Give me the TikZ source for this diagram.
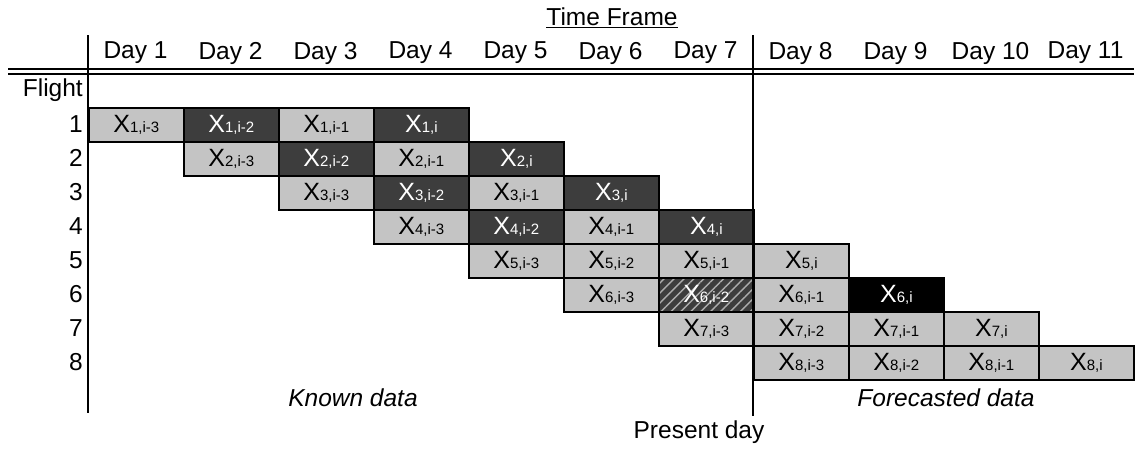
\documentclass[tikz,border=0pt]{standalone}
\usepackage{fontspec}
\setmainfont{Liberation Sans}
\usetikzlibrary{patterns.meta}
\definecolor{cellgray}{gray}{0.77}
\definecolor{celldark}{gray}{0.24}
\newcommand\xlab[1]{{\fontsize{25}{25}\selectfont X}{\fontsize{15}{15}\selectfont #1}}
\begin{document}
\begin{tikzpicture}[x=1pt,y=-1pt,
  txt/.style={font=\fontsize{24.5}{24.5}\selectfont, inner sep=0pt},
  cell/.style={draw=black, line width=1.8pt, minimum width=95pt, minimum height=34pt,
    inner sep=0pt, anchor=north west},
  lite/.style={cell, fill=cellgray},
  darkc/.style={cell, fill=celldark, text=white},
  blackc/.style={cell, fill=black, text=white},
  hatchc/.style={cell, text=white, preaction={fill=celldark},
    pattern={Lines[angle=45,distance=7pt,line width=1.4pt]}, pattern color=gray!65},
  rule/.style={line width=2pt}]
\useasboundingbox (0,0) rectangle (1135,448);

% title and day headings
\node[txt] (tf) at (612,18) {\underline{Time Frame}};
\foreach \d in {1,...,11}
  \node[txt] (day\d) at ({88+95*(\d-0.5)},53) {Day \d};

% double rule under the headings
\coordinate (hla) at (8,68.5);  \coordinate (hra) at (1134,68.5);
\coordinate (hlb) at (8,73.5);  \coordinate (hrb) at (1134,73.5);
\draw[rule] (hla) -- (hra);
\draw[rule] (hlb) -- (hrb);

% row headings
\node[txt, anchor=east] (flight) at (83,90) {Flight};
\foreach \r in {1,...,8}
  \node[txt, anchor=east] (row\r) at (83,{107+34*(\r-0.5)}) {\r};

% data cells: row / column / subscript / look
\foreach \r/\c/\s/\k in {
  1/1/{1,i-3}/lite, 1/2/{1,i-2}/darkc, 1/3/{1,i-1}/lite, 1/4/{1,i}/darkc,
  2/2/{2,i-3}/lite, 2/3/{2,i-2}/darkc, 2/4/{2,i-1}/lite, 2/5/{2,i}/darkc,
  3/3/{3,i-3}/lite, 3/4/{3,i-2}/darkc, 3/5/{3,i-1}/lite, 3/6/{3,i}/darkc,
  4/4/{4,i-3}/lite, 4/5/{4,i-2}/darkc, 4/6/{4,i-1}/lite, 4/7/{4,i}/darkc,
  5/5/{5,i-3}/lite, 5/6/{5,i-2}/lite, 5/7/{5,i-1}/lite, 5/8/{5,i}/lite,
  6/6/{6,i-3}/lite, 6/7/{6,i-2}/hatchc, 6/8/{6,i-1}/lite, 6/9/{6,i}/blackc,
  7/7/{7,i-3}/lite, 7/8/{7,i-2}/lite, 7/9/{7,i-1}/lite, 7/10/{7,i}/lite,
  8/8/{8,i-3}/lite, 8/9/{8,i-2}/lite, 8/10/{8,i-1}/lite, 8/11/{8,i}/lite}
  \node[\k] (c\r-\c) at ({88+95*(\c-1)},{107+34*(\r-1)}) {\xlab{\s}};

% axis line and present-day divider
\coordinate (ltop) at (88,35);  \coordinate (lbot) at (88,413);
\draw[rule] (ltop) -- (lbot);
\coordinate (ptop) at (753,35);
\node[txt] (present) at (699,432) {Present day};
\coordinate (pbot) at (753,416);
\draw[rule] (ptop) -- (pbot);

% region captions
\node[txt, font=\fontsize{24.5}{24.5}\selectfont\itshape] (known) at (353,398) {Known data};
\node[txt, font=\fontsize{24.5}{24.5}\selectfont\itshape] (fore) at (946,398) {Forecasted data};
\end{tikzpicture}
\end{document}
